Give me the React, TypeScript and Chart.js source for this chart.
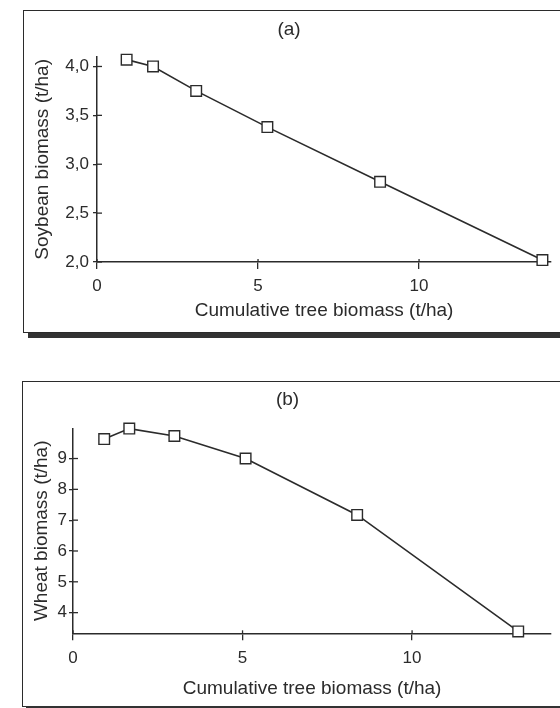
import React, { useEffect, useRef } from "react";
import { Chart, registerables } from "chart.js";

Chart.register(...registerables);

// ---- data ----
const soyTreeBiomass = [0.92, 1.74, 3.08, 5.29, 8.79, 13.83];
const soyBiomass = [4.07, 4.0, 3.75, 3.38, 2.82, 2.02];
const wheatTreeBiomass = [0.92, 1.66, 2.99, 5.09, 8.38, 13.13];
const wheatBiomass = [9.63, 9.97, 9.73, 9.0, 7.17, 3.39];
const xTickValues = [0, 5, 10];
const soyTickValues = [2.0, 2.5, 3.0, 3.5, 4.0];
const wheatTickValues = [4, 5, 6, 7, 8, 9];

const INK = "#2b2b2b";
const FONT = "'Liberation Sans', Arial, Helvetica, sans-serif";

const innerTicks = {
  id: "innerTicks",
  afterDraw(chart: any) {
    const { ctx, chartArea, scales } = chart;
    ctx.save();
    ctx.strokeStyle = INK;
    ctx.lineWidth = 1.3;
    const y = scales.y;
    y.ticks.forEach((t: any) => {
      const py = y.getPixelForValue(t.value);
      ctx.beginPath();
      ctx.moveTo(chartArea.left, py);
      ctx.lineTo(chartArea.left + 5, py);
      ctx.stroke();
    });
    const x = scales.x;
    x.ticks.forEach((t: any) => {
      const px = x.getPixelForValue(t.value);
      ctx.beginPath();
      ctx.moveTo(px, chartArea.bottom);
      ctx.lineTo(px, chartArea.bottom - 3);
      ctx.stroke();
    });
    ctx.restore();
  },
};

type PanelCfg = {
  xs: number[];
  ys: number[];
  yTicks: number[];
  yMin: number;
  yMax: number;
  yFmt: (v: number) => string;
  title: string;
  yTitle: string;
  yAxisWidth: number;
  xAxisHeight: number;
  padRight: number;
  titlePad: { top: number; bottom: number };
  yTitlePadTop: number;
  xTitlePadBottom: number;
  xTickPad: number;
  yTickPad: number;
};

function Panel({ cfg, width, height }: { cfg: PanelCfg; width: number; height: number }) {
  const ref = useRef<HTMLCanvasElement | null>(null);
  useEffect(() => {
    if (!ref.current) return;
    const chart = new Chart(ref.current, {
      type: "line",
      data: {
        datasets: [
          {
            data: cfg.xs.map((x, i) => ({ x, y: cfg.ys[i] })),
            borderColor: INK,
            borderWidth: 1.6,
            pointStyle: "rect",
            pointRadius: 7.5,
            pointBackgroundColor: "#ffffff",
            pointBorderColor: INK,
            pointBorderWidth: 1.4,
            tension: 0,
            fill: false,
            clip: false as any,
          },
        ],
      },
      options: {
        animation: false,
        responsive: false,
        maintainAspectRatio: false,
        layout: { padding: { left: 0, right: cfg.padRight, top: 0, bottom: 0 } },
        plugins: {
          legend: { display: false },
          tooltip: { enabled: false },
          title: {
            display: true,
            text: cfg.title,
            color: INK,
            font: { family: FONT, size: 19, weight: "normal" },
            padding: cfg.titlePad,
          },
        },
        scales: {
          x: {
            type: "linear",
            min: 0,
            max: 14.1,
            afterBuildTicks: (s: any) => {
              s.ticks = xTickValues.map((v) => ({ value: v }));
            },
            afterFit: (s: any) => {
              s.height = cfg.xAxisHeight;
            },
            ticks: {
              color: INK,
              font: { family: FONT, size: 17 },
              padding: cfg.xTickPad,
              callback: (v: any) => String(v),
            },
            grid: {
              drawOnChartArea: false,
              drawTicks: true,
              tickLength: 7,
              color: INK,
              lineWidth: 1.3,
            },
            border: { display: true, color: INK, width: 1.5 },
            title: {
              display: true,
              text: "Cumulative tree biomass (t/ha)",
              color: INK,
              font: { family: FONT, size: 19 },
              padding: { top: 0, bottom: cfg.xTitlePadBottom },
            },
          },
          y: {
            type: "linear",
            min: cfg.yMin,
            max: cfg.yMax,
            afterBuildTicks: (s: any) => {
              s.ticks = cfg.yTicks.map((v) => ({ value: v }));
            },
            afterFit: (s: any) => {
              s.width = cfg.yAxisWidth;
            },
            ticks: {
              color: INK,
              font: { family: FONT, size: 17 },
              padding: cfg.yTickPad,
              callback: (v: any) => cfg.yFmt(Number(v)),
            },
            grid: {
              drawOnChartArea: false,
              drawTicks: true,
              tickLength: 4,
              color: INK,
              lineWidth: 1.3,
            },
            border: { display: true, color: INK, width: 1.5 },
            title: {
              display: true,
              text: cfg.yTitle,
              color: INK,
              font: { family: FONT, size: 19 },
              padding: { top: cfg.yTitlePadTop, bottom: 0 },
            },
          },
        },
      } as any,
      plugins: [innerTicks],
    });
    return () => chart.destroy();
  }, []);
  return <canvas ref={ref} width={width} height={height} style={{ display: "block", width, height }} />;
}

const soyCfg: PanelCfg = {
  xs: soyTreeBiomass,
  ys: soyBiomass,
  yTicks: soyTickValues,
  yMin: 2.0,
  yMax: 4.1,
  yFmt: (v) => v.toFixed(1).replace(".", ","),
  title: "(a)",
  yTitle: "Soybean biomass (t/ha)",
  yAxisWidth: 73,
  xAxisHeight: 70,
  padRight: 6,
  titlePad: { top: 7.6, bottom: 15.3 },
  yTitlePadTop: 7.6,
  xTitlePadBottom: 9.6,
  xTickPad: 6.8,
  yTickPad: 4,
};

const wheatCfg: PanelCfg = {
  xs: wheatTreeBiomass,
  ys: wheatBiomass,
  yTicks: wheatTickValues,
  yMin: 3.33,
  yMax: 9.98,
  yFmt: (v) => String(v),
  title: "(b)",
  yTitle: "Wheat biomass (t/ha)",
  yAxisWidth: 50,
  xAxisHeight: 72.7,
  padRight: 8,
  titlePad: { top: 6.6, bottom: 16.9 },
  yTitlePadTop: 7.3,
  xTitlePadBottom: 6.3,
  xTickPad: 7.5,
  yTickPad: 2,
};

export default function App() {
  const border = `1px solid ${INK}`;
  return (
    <div
      style={{
        position: "absolute",
        left: 0,
        top: 0,
        width: 560,
        height: 708,
        overflow: "hidden",
        background: "#ffffff",
      }}
    >
      <div
        style={{
          position: "absolute",
          left: 23,
          top: 10,
          width: 600,
          height: 321,
          borderLeft: border,
          borderTop: border,
          borderBottom: border,
        }}
      >
        <Panel cfg={soyCfg} width={536} height={321} />
      </div>
      <div style={{ position: "absolute", left: 28, top: 333, width: 540, height: 5, background: "#333" }} />
      <div
        style={{
          position: "absolute",
          left: 22,
          top: 381,
          width: 600,
          height: 324,
          borderLeft: border,
          borderTop: border,
          borderBottom: border,
        }}
      >
        <Panel cfg={wheatCfg} width={537} height={324} />
      </div>
      <div style={{ position: "absolute", left: 26, top: 706, width: 540, height: 3, background: "#333" }} />
    </div>
  );
}
